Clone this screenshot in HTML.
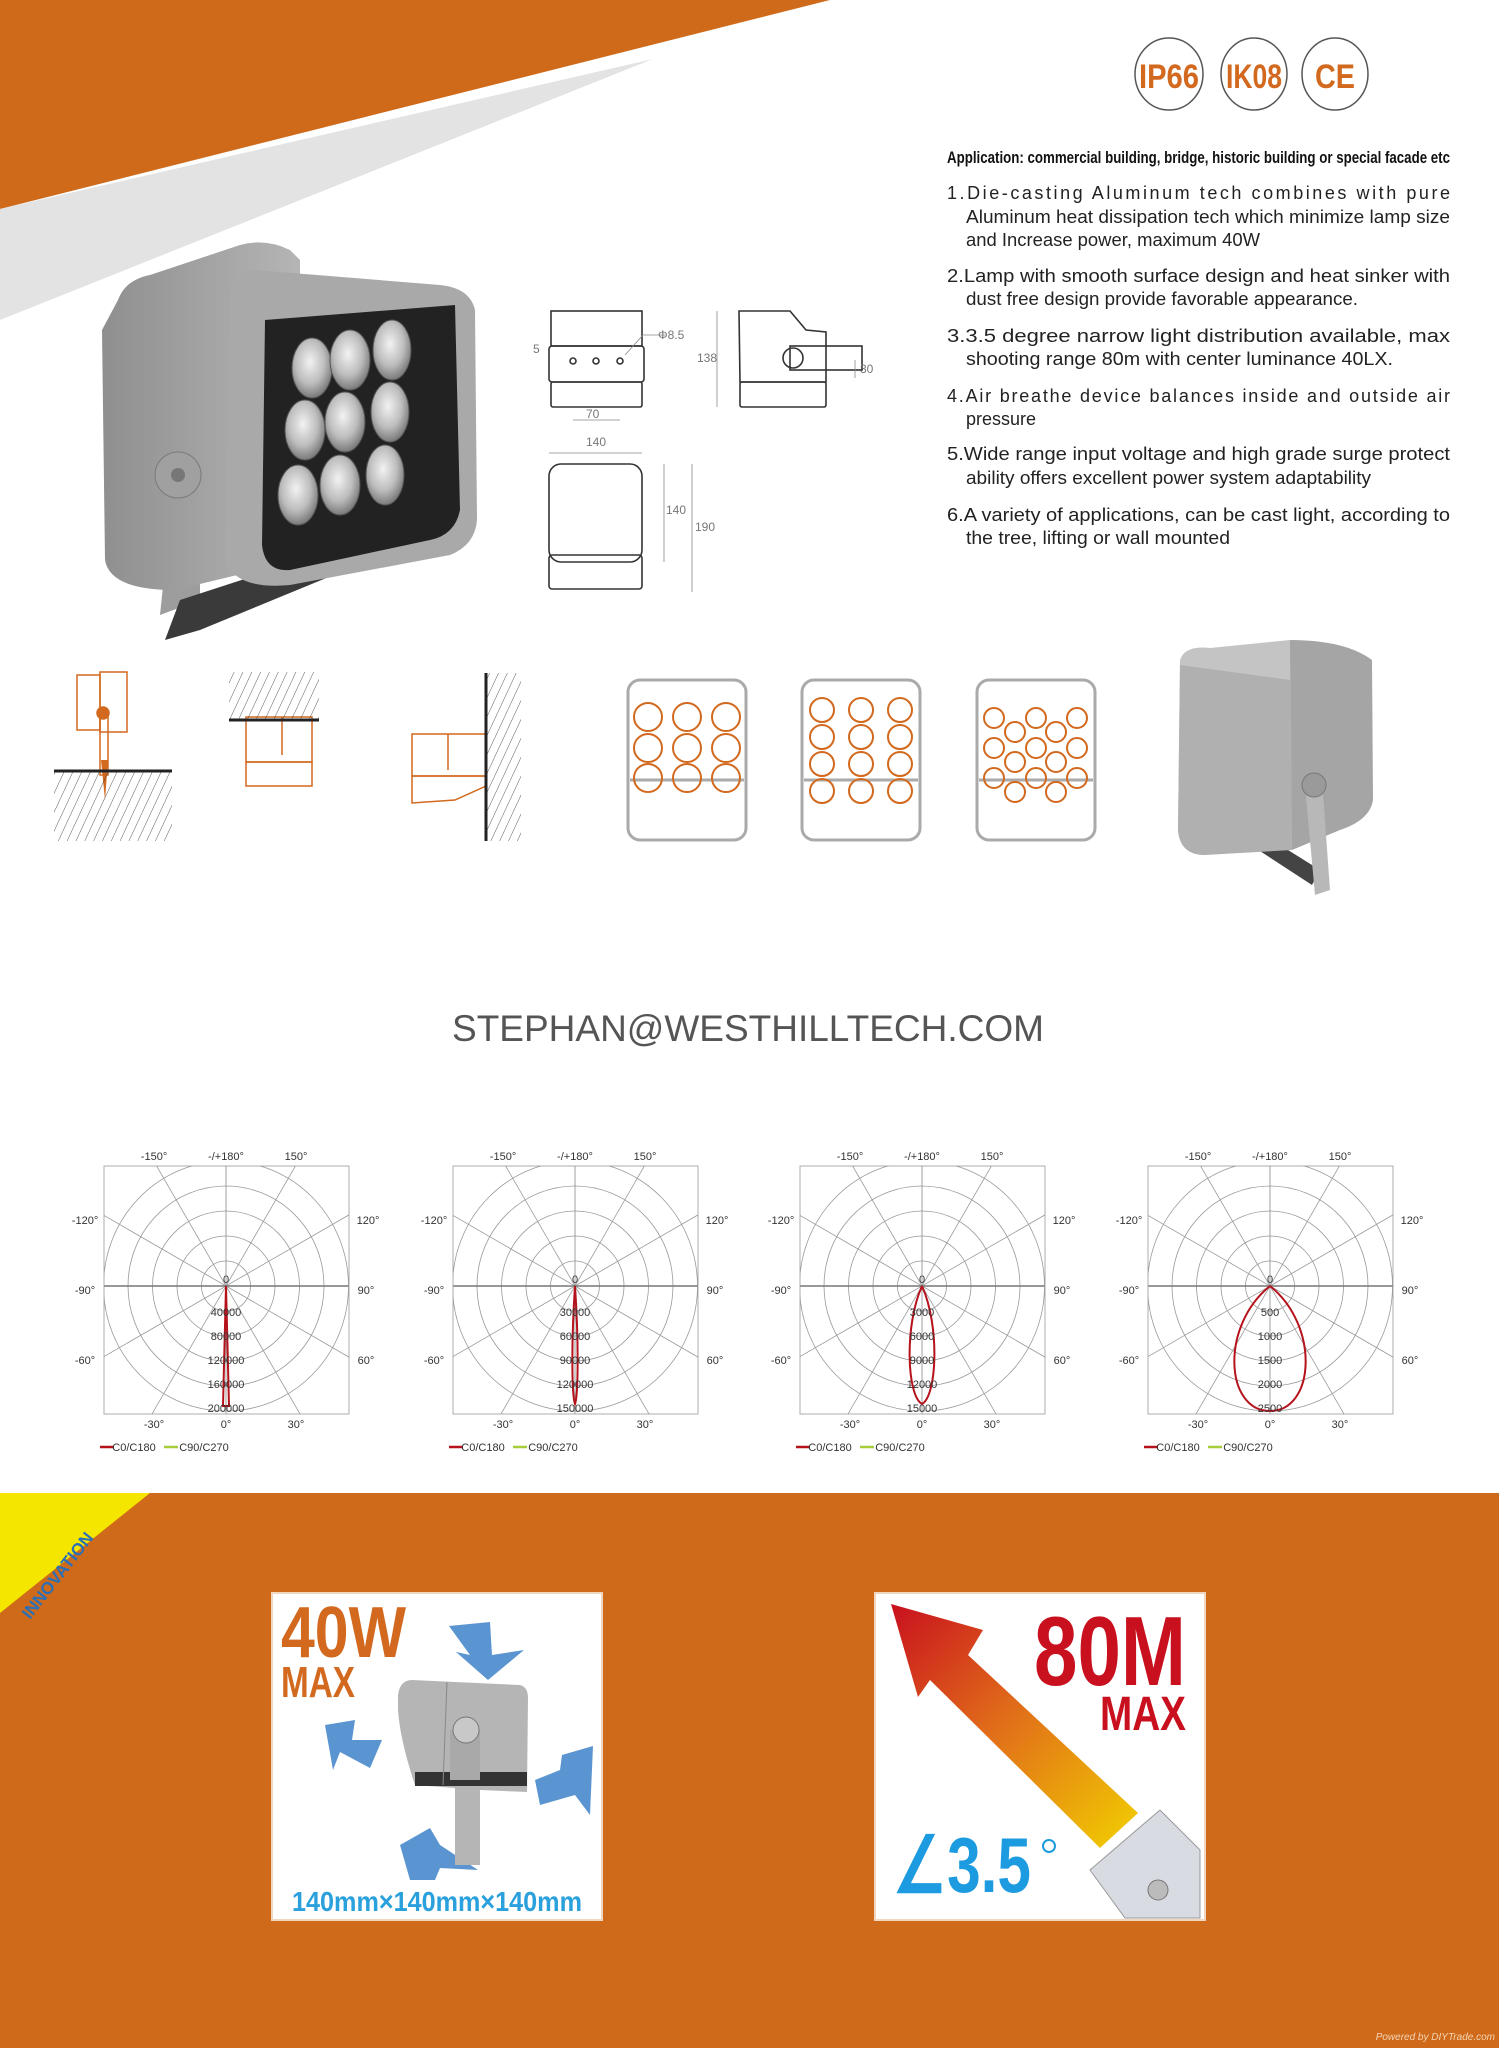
<!DOCTYPE html>
<html><head><meta charset="utf-8"><style>
html,body{margin:0;padding:0;background:#fff}
svg{display:block}
text{font-family:"Liberation Sans",sans-serif}
</style></head><body>
<svg width="1499" height="2048" viewBox="0 0 1499 2048" xmlns="http://www.w3.org/2000/svg">
<defs>
<clipPath id="pc"><rect x="-122" y="-120" width="245" height="248"/></clipPath>
<g id="grid" fill="none" stroke="#9a9a9a" stroke-width="0.8">
 <g clip-path="url(#pc)">
 <ellipse rx="24.5" ry="25"/><ellipse rx="49" ry="50"/><ellipse rx="73.5" ry="75"/><ellipse rx="98" ry="100"/><ellipse rx="122.5" ry="125"/>
 <line x1="-85" y1="-147" x2="85" y2="147"/><line x1="85" y1="-147" x2="-85" y2="147"/>
 <line x1="-147" y1="-85" x2="147" y2="85"/><line x1="147" y1="-85" x2="-147" y2="85"/>
 <line x1="0" y1="-130" x2="0" y2="130" stroke="#888"/><line x1="-130" y1="0" x2="130" y2="0" stroke="#777" stroke-width="1.4"/>
 </g>
 <rect x="-122" y="-120" width="245" height="248" stroke="#999"/>
</g>
<linearGradient id="arr" x1="0" y1="0" x2="1" y2="1"><stop offset="0" stop-color="#c8101e"/><stop offset="0.45" stop-color="#e06a1a"/><stop offset="1" stop-color="#f2d000"/></linearGradient>
<radialGradient id="lens" cx="0.45" cy="0.4" r="0.6"><stop offset="0" stop-color="#f2f2f2"/><stop offset="0.6" stop-color="#bdbdbd"/><stop offset="1" stop-color="#7a7a7a"/></radialGradient>
<linearGradient id="gbody" x1="0" y1="0" x2="1" y2="0"><stop offset="0" stop-color="#8f8f8f"/><stop offset="1" stop-color="#b5b5b5"/></linearGradient>
<pattern id="hatch" width="8" height="8" patternUnits="userSpaceOnUse" patternTransform="rotate(25)"><line x1="0" y1="0" x2="0" y2="8" stroke="#333" stroke-width="0.8"/></pattern>
</defs>

<polygon points="0,0 830,0 0,209" fill="#cf6a1a"/>
<polygon points="0,209 653,59 0,320" fill="#e3e3e3"/>

<g fill="none" stroke="#555" stroke-width="1.5">
<ellipse cx="1169" cy="74" rx="34" ry="36"/><ellipse cx="1254" cy="74" rx="33" ry="36"/><ellipse cx="1335" cy="74" rx="33" ry="36"/>
</g>
<g fill="#d2691e" font-weight="bold" text-anchor="middle">
<text x="1169" y="88" font-size="34" textLength="60" lengthAdjust="spacingAndGlyphs">IP66</text>
<text x="1254" y="88" font-size="34" textLength="56" lengthAdjust="spacingAndGlyphs">IK08</text>
<text x="1335" y="88" font-size="34" textLength="40" lengthAdjust="spacingAndGlyphs">CE</text>
</g>

<text x="947" y="163" font-size="17" font-weight="bold" fill="#111" textLength="503" lengthAdjust="spacingAndGlyphs">Application: commercial building, bridge, historic building or special facade etc</text>
<g font-size="18" fill="#222">
<text x="947" y="199" textLength="503" lengthAdjust="spacing">1.Die-casting Aluminum tech combines with pure</text>
<text x="966" y="223" textLength="484" lengthAdjust="spacingAndGlyphs">Aluminum heat dissipation tech which minimize lamp size</text>
<text x="966" y="246" textLength="294" lengthAdjust="spacingAndGlyphs">and Increase power, maximum 40W</text>
<text x="947" y="282" textLength="503" lengthAdjust="spacingAndGlyphs">2.Lamp with smooth surface design and heat sinker with</text>
<text x="966" y="305" textLength="392" lengthAdjust="spacingAndGlyphs">dust free design provide favorable appearance.</text>
<text x="947" y="342" textLength="503" lengthAdjust="spacingAndGlyphs">3.3.5 degree narrow light distribution available, max</text>
<text x="966" y="365" textLength="427" lengthAdjust="spacingAndGlyphs">shooting range 80m with center luminance 40LX.</text>
<text x="947" y="402" textLength="503" lengthAdjust="spacing">4.Air breathe device balances inside and outside air</text>
<text x="966" y="425" textLength="70" lengthAdjust="spacingAndGlyphs">pressure</text>
<text x="947" y="460" textLength="503" lengthAdjust="spacingAndGlyphs">5.Wide range input voltage and high grade surge protect</text>
<text x="966" y="484" textLength="405" lengthAdjust="spacingAndGlyphs">ability offers excellent power system adaptability</text>
<text x="947" y="521" textLength="503" lengthAdjust="spacingAndGlyphs">6.A variety of applications, can be cast light, according to</text>
<text x="966" y="544" textLength="264" lengthAdjust="spacingAndGlyphs">the tree, lifting or wall mounted</text>
</g>

<g>
<path d="M160,615 L175,470 L200,470 L200,600 Z" fill="#9d9d9d"/>
<path d="M165,640 L180,600 L365,540 L370,560 L200,630 Z" fill="#3a3a3a"/>
<path d="M118,300 Q125,280 150,275 L240,245 Q265,238 290,250 L300,260 L300,560 L175,590 Q110,590 105,560 L102,330 Z" fill="url(#gbody)"/>
<path d="M230,290 Q235,275 255,270 L440,285 Q470,288 475,310 L477,520 Q475,545 450,555 L290,585 Q235,590 225,560 Z" fill="#a9a9a9"/>
<path d="M265,320 L455,305 L460,510 Q455,535 430,540 L290,570 Q265,572 262,545 Z" fill="#222"/>
<g fill="url(#lens)" stroke="#555">
<ellipse cx="312" cy="368" rx="20" ry="30"/><ellipse cx="350" cy="360" rx="20" ry="30"/><ellipse cx="392" cy="350" rx="19" ry="30"/>
<ellipse cx="305" cy="430" rx="20" ry="30"/><ellipse cx="345" cy="422" rx="20" ry="30"/><ellipse cx="390" cy="412" rx="19" ry="30"/>
<ellipse cx="298" cy="495" rx="20" ry="30"/><ellipse cx="340" cy="485" rx="20" ry="30"/><ellipse cx="385" cy="475" rx="19" ry="30"/>
</g>
<circle cx="178" cy="475" r="23" fill="#a0a0a0" stroke="#7a7a7a"/><circle cx="178" cy="475" r="7" fill="#777"/>
</g>

<g fill="none" stroke="#333" stroke-width="1.6">
<rect x="551" y="311" width="91" height="35"/><rect x="549" y="346" width="95" height="36" rx="3"/><rect x="551" y="382" width="91" height="25" rx="2"/>
<circle cx="573" cy="361" r="3"/><circle cx="596" cy="361" r="3"/><circle cx="620" cy="361" r="3"/>
<path d="M739,311 L790,311 L806,330 L826,332 L826,382 L740,382 Z"/><rect x="740" y="382" width="86" height="25" rx="2"/>
<rect x="790" y="346" width="72" height="24"/><circle cx="793" cy="358" r="10"/>
<rect x="549" y="464" width="93" height="98" rx="12"/><rect x="549" y="555" width="93" height="34" rx="3"/>
</g>
<g stroke="#888" stroke-width="0.8" fill="none">
<line x1="717" y1="311" x2="717" y2="407"/><line x1="855" y1="360" x2="855" y2="378"/>
<line x1="573" y1="420" x2="620" y2="420"/><line x1="549" y1="453" x2="642" y2="453"/>
<line x1="664" y1="464" x2="664" y2="562"/><line x1="692" y1="464" x2="692" y2="592"/>
<line x1="625" y1="355" x2="643" y2="335"/><line x1="643" y1="335" x2="665" y2="335"/>
</g>
<g font-size="12" fill="#777">
<text x="658" y="339">Φ8.5</text><text x="533" y="353">5</text><text x="697" y="362">138</text><text x="860" y="373">30</text>
<text x="586" y="418">70</text><text x="586" y="446">140</text><text x="666" y="514">140</text><text x="695" y="531">190</text>
</g>

<g fill="none" stroke="#d2691e" stroke-width="1.5">
<rect x="77" y="675" width="23" height="55"/><rect x="100" y="672" width="27" height="60"/><circle cx="103" cy="713" r="6" fill="#d2691e"/>
<rect x="100" y="713" width="8" height="62"/>
<rect x="246" y="717" width="66" height="45"/><line x1="282" y1="717" x2="282" y2="755"/><rect x="246" y="762" width="66" height="24"/>
<rect x="412" y="734" width="74" height="42"/><line x1="448" y1="734" x2="448" y2="770"/><path d="M412,776 L486,776 L486,786 L455,800 L412,803 Z"/>
</g>
<polygon points="101,760 108,760 105,800" fill="#d2691e"/>
<rect x="54" y="771" width="118" height="70" fill="url(#hatch)"/><line x1="54" y1="771" x2="172" y2="771" stroke="#222" stroke-width="3"/>
<rect x="229" y="672" width="90" height="48" fill="url(#hatch)"/><line x1="229" y1="720" x2="319" y2="720" stroke="#222" stroke-width="3"/>
<rect x="486" y="673" width="35" height="168" fill="url(#hatch)"/><line x1="486" y1="673" x2="486" y2="841" stroke="#222" stroke-width="3"/>

<g fill="none" stroke="#aaa" stroke-width="3">
<rect x="628" y="680" width="118" height="160" rx="12"/><line x1="630" y1="780" x2="744" y2="780"/>
<rect x="802" y="680" width="118" height="160" rx="12"/><line x1="804" y1="780" x2="918" y2="780"/>
<rect x="977" y="680" width="118" height="160" rx="12"/><line x1="979" y1="780" x2="1093" y2="780"/>
</g>
<g fill="none" stroke="#d2691e" stroke-width="2">
<circle cx="648" cy="717" r="14"/><circle cx="687" cy="717" r="14"/><circle cx="726" cy="717" r="14"/>
<circle cx="648" cy="748" r="14"/><circle cx="687" cy="748" r="14"/><circle cx="726" cy="748" r="14"/>
<circle cx="648" cy="778" r="14"/><circle cx="687" cy="778" r="14"/><circle cx="726" cy="778" r="14"/>
<circle cx="822" cy="710" r="12"/><circle cx="861" cy="710" r="12"/><circle cx="900" cy="710" r="12"/>
<circle cx="822" cy="737" r="12"/><circle cx="861" cy="737" r="12"/><circle cx="900" cy="737" r="12"/>
<circle cx="822" cy="764" r="12"/><circle cx="861" cy="764" r="12"/><circle cx="900" cy="764" r="12"/>
<circle cx="822" cy="791" r="12"/><circle cx="861" cy="791" r="12"/><circle cx="900" cy="791" r="12"/>
<circle cx="994" cy="718" r="10"/><circle cx="1036" cy="718" r="10"/><circle cx="1077" cy="718" r="10"/>
<circle cx="1015" cy="732" r="10"/><circle cx="1056" cy="732" r="10"/>
<circle cx="994" cy="748" r="10"/><circle cx="1036" cy="748" r="10"/><circle cx="1077" cy="748" r="10"/>
<circle cx="1015" cy="762" r="10"/><circle cx="1056" cy="762" r="10"/>
<circle cx="994" cy="778" r="10"/><circle cx="1036" cy="778" r="10"/><circle cx="1077" cy="778" r="10"/>
<circle cx="1015" cy="792" r="10"/><circle cx="1056" cy="792" r="10"/>
</g>

<path d="M1220,825 L1232,815 L1320,870 L1312,885 Z" fill="#444"/>
<path d="M1180,660 Q1185,645 1210,648 L1290,640 Q1320,640 1325,660 L1325,820 Q1320,840 1295,840 L1205,855 Q1180,855 1178,830 Z" fill="#c4c4c4"/>
<path d="M1180,665 L1290,680 L1292,850 L1205,855 Q1180,855 1178,830 Z" fill="#b0b0b0"/>
<path d="M1290,640 Q1345,640 1372,660 L1373,800 Q1370,820 1340,830 L1292,850 Z" fill="#a5a5a5"/>
<path d="M1305,785 L1322,780 L1330,890 L1315,895 Z" fill="#b8b8b8"/>
<circle cx="1314" cy="785" r="12" fill="#9a9a9a" stroke="#777"/>

<text x="748" y="1041" font-size="37" fill="#555" text-anchor="middle">STEPHAN@WESTHILLTECH.COM</text>

<g font-size="11" fill="#333" text-anchor="middle">
<g transform="translate(226,1286)">
 <use href="#grid"/>
 <path d="M0,0 L-3,120 L3,120 Z" fill="none" stroke="#b5121b" stroke-width="2"/>
 <text x="0" y="-3">0</text><text x="0" y="30">40000</text><text x="0" y="54">80000</text><text x="0" y="78">120000</text><text x="0" y="102">160000</text><text x="0" y="126">200000</text>
 <text x="-72" y="-126">-150°</text><text x="0" y="-126">-/+180°</text><text x="70" y="-126">150°</text>
 <text x="-141" y="-62">-120°</text><text x="142" y="-62">120°</text><text x="-141" y="8">-90°</text><text x="140" y="8">90°</text>
 <text x="-141" y="78">-60°</text><text x="140" y="78">60°</text>
 <text x="-72" y="142">-30°</text><text x="0" y="142">0°</text><text x="70" y="142">30°</text>
 <line x1="-126" y1="161" x2="-112" y2="161" stroke="#b5121b" stroke-width="2.5"/><text x="-92" y="165">C0/C180</text>
 <line x1="-62" y1="161" x2="-48" y2="161" stroke="#a6cc3a" stroke-width="2.5"/><text x="-22" y="165">C90/C270</text>
</g>
<g transform="translate(575,1286)">
 <use href="#grid"/>
 <path d="M0,0 C-4,60 -3,110 0,118 C3,110 4,60 0,0" fill="none" stroke="#b5121b" stroke-width="2"/>
 <text x="0" y="-3">0</text><text x="0" y="30">30000</text><text x="0" y="54">60000</text><text x="0" y="78">90000</text><text x="0" y="102">120000</text><text x="0" y="126">150000</text>
 <text x="-72" y="-126">-150°</text><text x="0" y="-126">-/+180°</text><text x="70" y="-126">150°</text>
 <text x="-141" y="-62">-120°</text><text x="142" y="-62">120°</text><text x="-141" y="8">-90°</text><text x="140" y="8">90°</text>
 <text x="-141" y="78">-60°</text><text x="140" y="78">60°</text>
 <text x="-72" y="142">-30°</text><text x="0" y="142">0°</text><text x="70" y="142">30°</text>
 <line x1="-126" y1="161" x2="-112" y2="161" stroke="#b5121b" stroke-width="2.5"/><text x="-92" y="165">C0/C180</text>
 <line x1="-62" y1="161" x2="-48" y2="161" stroke="#a6cc3a" stroke-width="2.5"/><text x="-22" y="165">C90/C270</text>
</g>
<g transform="translate(922,1286)">
 <use href="#grid"/>
 <path d="M0,0 C-18,40 -15,110 0,118 C15,110 18,40 0,0" fill="none" stroke="#b5121b" stroke-width="2"/>
 <text x="0" y="-3">0</text><text x="0" y="30">3000</text><text x="0" y="54">6000</text><text x="0" y="78">9000</text><text x="0" y="102">12000</text><text x="0" y="126">15000</text>
 <text x="-72" y="-126">-150°</text><text x="0" y="-126">-/+180°</text><text x="70" y="-126">150°</text>
 <text x="-141" y="-62">-120°</text><text x="142" y="-62">120°</text><text x="-141" y="8">-90°</text><text x="140" y="8">90°</text>
 <text x="-141" y="78">-60°</text><text x="140" y="78">60°</text>
 <text x="-72" y="142">-30°</text><text x="0" y="142">0°</text><text x="70" y="142">30°</text>
 <line x1="-126" y1="161" x2="-112" y2="161" stroke="#b5121b" stroke-width="2.5"/><text x="-92" y="165">C0/C180</text>
 <line x1="-62" y1="161" x2="-48" y2="161" stroke="#a6cc3a" stroke-width="2.5"/><text x="-22" y="165">C90/C270</text>
</g>
<g transform="translate(1270,1286)">
 <use href="#grid"/>
 <path d="M0,0 C-50,40 -45,125 0,125 C45,125 50,40 0,0" fill="none" stroke="#b5121b" stroke-width="2"/>
 <text x="0" y="-3">0</text><text x="0" y="30">500</text><text x="0" y="54">1000</text><text x="0" y="78">1500</text><text x="0" y="102">2000</text><text x="0" y="126">2500</text>
 <text x="-72" y="-126">-150°</text><text x="0" y="-126">-/+180°</text><text x="70" y="-126">150°</text>
 <text x="-141" y="-62">-120°</text><text x="142" y="-62">120°</text><text x="-141" y="8">-90°</text><text x="140" y="8">90°</text>
 <text x="-141" y="78">-60°</text><text x="140" y="78">60°</text>
 <text x="-72" y="142">-30°</text><text x="0" y="142">0°</text><text x="70" y="142">30°</text>
 <line x1="-126" y1="161" x2="-112" y2="161" stroke="#b5121b" stroke-width="2.5"/><text x="-92" y="165">C0/C180</text>
 <line x1="-62" y1="161" x2="-48" y2="161" stroke="#a6cc3a" stroke-width="2.5"/><text x="-22" y="165">C90/C270</text>
</g>
</g>

<rect x="0" y="1493" width="1499" height="555" fill="#cf6a1a"/>
<polygon points="0,1493 150,1493 0,1613" fill="#f5e600"/>
<text x="0" y="0" font-size="17" fill="#2b6fb5" font-weight="bold" transform="translate(30,1620) rotate(-52)">INNOVATION</text>

<!-- card 1 -->
<rect x="272" y="1593" width="330" height="327" fill="#fff" stroke="#f0d6bf" stroke-width="2"/>
<text x="281" y="1657" font-size="72" font-weight="bold" fill="#d2691e" textLength="125" lengthAdjust="spacingAndGlyphs">40W</text>
<text x="281" y="1697" font-size="44" font-weight="bold" fill="#d2691e" textLength="74" lengthAdjust="spacingAndGlyphs">MAX</text>
<g fill="#5b95d1">
<polygon points="449,1626 490,1622 492,1655 524,1650 488,1680 456,1652 470,1655"/>
<polygon points="325,1725 355,1720 352,1740 382,1740 370,1768 340,1752 333,1770"/>
<polygon points="593,1746 590,1815 575,1795 540,1805 535,1780 560,1770 562,1755"/>
<polygon points="400,1845 430,1828 440,1845 478,1870 440,1868 435,1880 410,1880"/>
</g>
<g transform="translate(0,-50)">
<path d="M398,1745 Q400,1730 412,1730 L520,1735 Q528,1737 528,1748 L527,1842 L480,1840 L480,1915 L455,1915 L455,1838 L415,1835 Q400,1790 398,1760 Z" fill="#b5b5b5"/>
<rect x="415" y="1822" width="112" height="14" fill="#333"/><line x1="447" y1="1732" x2="443" y2="1835" stroke="#888"/>
<rect x="450" y="1780" width="30" height="50" fill="#a9a9a9"/>
<circle cx="466" cy="1780" r="13" fill="#c8c8c8" stroke="#777"/>
</g>
<text x="437" y="1911" font-size="28" font-weight="bold" fill="#2aa0dc" text-anchor="middle" textLength="290" lengthAdjust="spacingAndGlyphs">140mm×140mm×140mm</text>

<!-- card 2 -->
<rect x="875" y="1593" width="330" height="327" fill="#fff" stroke="#f0d6bf" stroke-width="2"/>
<polygon points="891,1604 983,1630 968,1655 1138,1813 1100,1848 930,1680 918,1697" fill="url(#arr)"/>
<text x="1186" y="1685" font-size="98" font-weight="bold" fill="#c8101e" text-anchor="end" textLength="152" lengthAdjust="spacingAndGlyphs">80M</text>
<text x="1186" y="1730" font-size="48" font-weight="bold" fill="#c8101e" text-anchor="end" textLength="86" lengthAdjust="spacingAndGlyphs">MAX</text>
<text x="893" y="1892" font-size="78" font-weight="bold" fill="#1d9be0" textLength="138" lengthAdjust="spacingAndGlyphs">∠3.5</text>
<circle cx="1049" cy="1846" r="6" fill="none" stroke="#1d9be0" stroke-width="2"/>
<path d="M1090,1870 L1160,1810 L1200,1850 L1200,1918 L1125,1918 Z" fill="#d8dce2" stroke="#999"/>
<circle cx="1158" cy="1890" r="10" fill="#bbb" stroke="#777"/>

<text x="1495" y="2040" font-size="10" fill="#f4d4b4" text-anchor="end" font-style="italic">Powered by DIYTrade.com</text>
</svg>
</body></html>
